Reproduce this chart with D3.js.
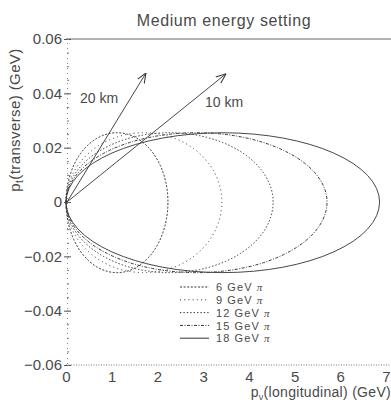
<!DOCTYPE html>
<html>
<head>
<meta charset="utf-8">
<script src="https://cdn.jsdelivr.net/npm/d3@7"></script>
<style>
  body { margin: 0; background: #fff; }
  text { font-family: "Liberation Sans", Arial, sans-serif; fill: #4a4a4a; }
</style>
</head>
<body>
<div id="chart"></div>
<script>
// pion energies (GeV) and the neutrino kinematic ellipses
const energies = [6, 9, 12, 15, 18];
const pLongMax = [2.23, 3.41, 4.53, 5.71, 6.86]; // right end of each ellipse
const pTransTop = 0.0255;  // upper half peak
const pTransBot = -0.026;  // lower half trough

// arrows towards the detectors
const arrowLabels = ["20 km", "10 km"];
const arrowPL = [1.75, 3.5];
const arrowPT = [0.0475, 0.0472];

const xTicks = [0, 1, 2, 3, 4, 5, 6, 7];
const yTicks = [-0.06, -0.04, -0.02, 0, 0.02, 0.04, 0.06];
const yMinor = d3.range(-0.06, 0.0601, 0.005);

const width = 391, height = 405;

const svg = d3.select("#chart").append("svg")
  .attr("width", width)
  .attr("height", height);

svg.append("rect").attr("width", width).attr("height", height).attr("fill", "#fff");

const x = d3.scaleLinear().domain([0, 7]).range([66, 386]);
const y = d3.scaleLinear().domain([-0.06, 0.06]).range([365, 39]);

// line styles per energy (6 .. 18 GeV)
const dash = ["2,1.6", "1,3.2", "1.4,2", "3,1.5,1,1.5", null];

// frame: top solid, bottom dotted
svg.append("line")
  .attr("x1", x(0)).attr("x2", width)
  .attr("y1", y(0.06)).attr("y2", y(0.06))
  .attr("stroke", "#555").attr("stroke-width", 0.9);
svg.append("line")
  .attr("x1", x(0)).attr("x2", width)
  .attr("y1", y(-0.06)).attr("y2", y(-0.06))
  .attr("stroke", "#666").attr("stroke-width", 0.9).attr("stroke-dasharray", "1,1.5");

// y axis
const yAxis = svg.append("g")
  .attr("transform", `translate(${x(0) + 1},0)`)
  .call(d3.axisLeft(y).tickValues(yTicks).tickSize(-4).tickPadding(5)
    .tickFormat(d => d === 0 ? "0" : d3.format(".2f")(d).replace("-", "\u2212")));
yAxis.select(".domain").attr("stroke", "#888").attr("stroke-dasharray", "1,4");
yAxis.selectAll(".tick line").attr("stroke", "#555").attr("x1", -3);
yAxis.selectAll(".tick text").attr("font-size", 15).attr("fill", "#4a4a4a")
  .style("font-family", "Liberation Sans, Arial, sans-serif");

svg.append("g")
  .attr("transform", `translate(${x(0) + 1},0)`)
  .call(d3.axisLeft(y).tickValues(yMinor).tickSize(-2).tickFormat(""))
  .call(g => g.select(".domain").remove())
  .selectAll("line").attr("stroke", "#777");

// x axis labels only
const xAxis = svg.append("g")
  .attr("transform", `translate(0,${y(-0.06)})`)
  .call(d3.axisBottom(x).tickValues(xTicks).tickSize(0).tickPadding(6).tickFormat(d3.format("d")));
xAxis.select(".domain").remove();
xAxis.selectAll(".tick text").attr("font-size", 15).attr("fill", "#4a4a4a")
  .style("font-family", "Liberation Sans, Arial, sans-serif");

// ellipses: upper half then lower half, from the origin out to pLongMax
const ellipses = svg.append("g");
energies.forEach((e, i) => {
  const x0 = x(0), x1 = x(pLongMax[i]);
  const rx = (x1 - x0) / 2;
  const y0 = y(0);
  const ru = y0 - y(pTransTop), rd = y(pTransBot) - y0;
  const d = `M${x0},${y0} A${rx},${ru} 0 0 1 ${x1},${y0} A${rx},${rd} 0 0 1 ${x0},${y0}`;
  ellipses.append("path")
    .attr("d", d)
    .attr("fill", "none")
    .attr("stroke", "#333")
    .attr("stroke-width", i === 4 ? 0.9 : 1)
    .attr("stroke-dasharray", dash[i]);
});

// arrows
svg.append("defs").append("marker")
  .attr("id", "head")
  .attr("viewBox", "0 0 10 10")
  .attr("refX", 10).attr("refY", 5)
  .attr("markerWidth", 10).attr("markerHeight", 10)
  .attr("markerUnits", "userSpaceOnUse")
  .attr("orient", "auto")
  .append("path")
  .attr("d", "M0,1 L10,5 L0,9")
  .attr("fill", "none")
  .attr("stroke", "#333")
  .attr("stroke-width", 1);

arrowLabels.forEach((lab, i) => {
  svg.append("line")
    .attr("x1", x(0) + 1).attr("y1", y(0))
    .attr("x2", x(arrowPL[i])).attr("y2", y(arrowPT[i]))
    .attr("stroke", "#333").attr("stroke-width", 0.9)
    .attr("marker-end", "url(#head)");
});
svg.append("text").attr("x", 80).attr("y", 103).attr("font-size", 14).text(arrowLabels[0]);
svg.append("text").attr("x", 205).attr("y", 107).attr("font-size", 14).text(arrowLabels[1]);

// legend
const legend = svg.append("g");
energies.forEach((e, i) => {
  const ly = 287 + i * 12.8;
  legend.append("line")
    .attr("x1", 180).attr("x2", 209)
    .attr("y1", ly).attr("y2", ly)
    .attr("stroke", "#333").attr("stroke-width", 1)
    .attr("stroke-dasharray", dash[i]);
  legend.append("text")
    .attr("x", 216).attr("y", ly + 4.2)
    .attr("font-size", 11)
    .attr("letter-spacing", 1.1)
    .text(`${e} GeV `)
    .append("tspan").attr("font-style", "italic").style("font-family", "Liberation Serif, serif").text("\u03c0");
});

// title and axis titles
svg.append("text")
  .attr("x", 224).attr("y", 26)
  .attr("text-anchor", "middle")
  .attr("font-size", 16)
  .attr("letter-spacing", 0.6)
  .text("Medium energy setting");

svg.append("text")
  .attr("transform", "translate(20,120) rotate(-90)")
  .attr("text-anchor", "middle")
  .attr("font-size", 15)
  .attr("letter-spacing", 0.4)
  .text("p")
  .call(t => t.append("tspan").attr("font-size", 10).attr("dy", 3).text("t"))
  .call(t => t.append("tspan").attr("dy", -3).text("(transverse) (GeV)"));

svg.append("text")
  .attr("x", 391).attr("y", 397)
  .attr("text-anchor", "end")
  .attr("font-size", 14)
  .attr("letter-spacing", 0.3)
  .text("p")
  .call(t => t.append("tspan").attr("font-size", 9).attr("dy", 3).text("\u03bd"))
  .call(t => t.append("tspan").attr("dy", -3).text("(longitudinal) (GeV)"));
</script>
</body>
</html>
